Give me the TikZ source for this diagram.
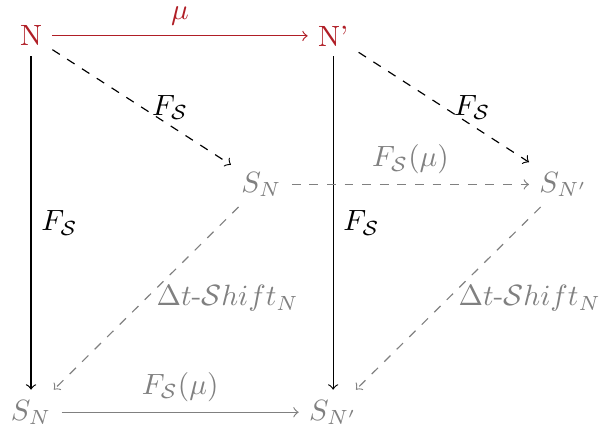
\documentclass[tikz,border=0pt]{standalone}
\usepackage{amsmath}
\usetikzlibrary{positioning}
\definecolor{crimson}{HTML}{B01E26}
\definecolor{ash}{HTML}{808080}

\begin{document}
\begin{tikzpicture}[
  front/.style={text=crimson},
  back/.style={text=ash},
  map/.style={->, color=crimson},
  lift/.style={->},
  proj/.style={->, dashed},
  backmap/.style={->, dashed, color=ash},
  shiftmap/.style={->, dashed, color=ash},
  base/.style={->, color=ash},
  node distance=3.62cm, on grid
]
\useasboundingbox (-0.372,0.43) rectangle ++(7.19,-5.16);

% top row
\node[front] (n) at (0,0) {N};
\node[front, right=of n] (np) {N'};
% back row
\node[back, below right=1.78cm and 2.76cm of n] (sn) {$S_N$};
\node[back, right=of sn] (snp) {$S_{N'}$};
% bottom row
\node[back, below=4.51cm of n] (bn) {$S_N$};
\node[back, right=of bn] (bnp) {$S_{N'}$};

\draw[map] (n) -- node[above, text=crimson] {$\mu$} (np);
\draw[proj] (n) -- node[midway, right] {$F_{\mathcal{S}}$} (sn);
\draw[proj] (np) -- node[midway, right] {$F_{\mathcal{S}}$} (snp);
\draw[lift] (n) -- node[right] {$F_{\mathcal{S}}$} (bn);
\draw[lift] (np) -- node[right] {$F_{\mathcal{S}}$} (bnp);
\draw[backmap] (sn) -- node[above] {$F_{\mathcal{S}}(\mu)$} (snp);
\draw[shiftmap] (sn) -- node[midway, right] {$\Delta t$-$\mathcal{S}hift_N$} (bn);
\draw[shiftmap] (snp) -- node[midway, right] {$\Delta t$-$\mathcal{S}hift_{N'}$} (bnp);
\draw[base] (bn) -- node[above] {$F_{\mathcal{S}}(\mu)$} (bnp);

\end{tikzpicture}
\end{document}
